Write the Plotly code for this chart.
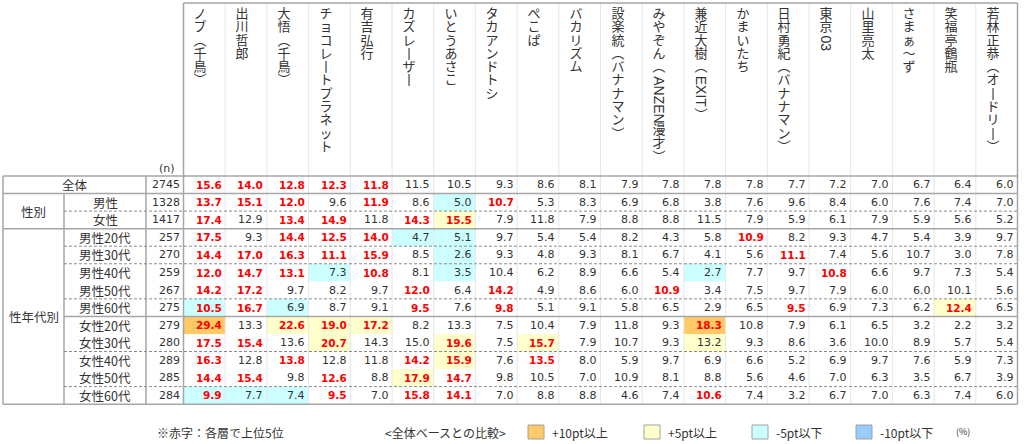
"""Table of favourite comedians by gender / age group, drawn with plotly shapes and text."""
import plotly.graph_objects as go

# Column headers (comedians)
names = ['ノブ（千鳥）', '出川哲郎', '大悟（千鳥）', 'チョコレートプラネット', '有吉弘行',
         'カズレーザー', 'いとうあさこ', 'タカアンドトシ', 'ぺこぱ', 'バカリズム',
         '設楽統（バナナマン）', 'みやぞん（ANZEN漫才）', '兼近大樹（EXIT）', 'かまいたち',
         '日村勇紀（バナナマン）', '東京03', '山里亮太', 'さまぁ～ず', '笑福亭鶴瓶',
         '若林正恭（オードリー）']

# Row labels and base sizes
row_labels = ['全体', '男性', '女性', '男性20代', '男性30代', '男性40代', '男性50代', '男性60代',
              '女性20代', '女性30代', '女性40代', '女性50代', '女性60代']
n_values = [2745, 1328, 1417, 257, 270, 259, 267, 275, 279, 280, 289, 285, 284]

# Values (%) per row
total = [15.6, 14.0, 12.8, 12.3, 11.8, 11.5, 10.5, 9.3, 8.6, 8.1,
         7.9, 7.8, 7.8, 7.8, 7.7, 7.2, 7.0, 6.7, 6.4, 6.0]
male = [13.7, 15.1, 12.0, 9.6, 11.9, 8.6, 5.0, 10.7, 5.3, 8.3,
        6.9, 6.8, 3.8, 7.6, 9.6, 8.4, 6.0, 7.6, 7.4, 7.0]
female = [17.4, 12.9, 13.4, 14.9, 11.8, 14.3, 15.5, 7.9, 11.8, 7.9,
          8.8, 8.8, 11.5, 7.9, 5.9, 6.1, 7.9, 5.9, 5.6, 5.2]
male_20s = [17.5, 9.3, 14.4, 12.5, 14.0, 4.7, 5.1, 9.7, 5.4, 5.4,
            8.2, 4.3, 5.8, 10.9, 8.2, 9.3, 4.7, 5.4, 3.9, 9.7]
male_30s = [14.4, 17.0, 16.3, 11.1, 15.9, 8.5, 2.6, 9.3, 4.8, 9.3,
            8.1, 6.7, 4.1, 5.6, 11.1, 7.4, 5.6, 10.7, 3.0, 7.8]
male_40s = [12.0, 14.7, 13.1, 7.3, 10.8, 8.1, 3.5, 10.4, 6.2, 8.9,
            6.6, 5.4, 2.7, 7.7, 9.7, 10.8, 6.6, 9.7, 7.3, 5.4]
male_50s = [14.2, 17.2, 9.7, 8.2, 9.7, 12.0, 6.4, 14.2, 4.9, 8.6,
            6.0, 10.9, 3.4, 7.5, 9.7, 7.9, 6.0, 6.0, 10.1, 5.6]
male_60s = [10.5, 16.7, 6.9, 8.7, 9.1, 9.5, 7.6, 9.8, 5.1, 9.1,
            5.8, 6.5, 2.9, 6.5, 9.5, 6.9, 7.3, 6.2, 12.4, 6.5]
female_20s = [29.4, 13.3, 22.6, 19.0, 17.2, 8.2, 13.3, 7.5, 10.4, 7.9,
              11.8, 9.3, 18.3, 10.8, 7.9, 6.1, 6.5, 3.2, 2.2, 3.2]
female_30s = [17.5, 15.4, 13.6, 20.7, 14.3, 15.0, 19.6, 7.5, 15.7, 7.9,
              10.7, 9.3, 13.2, 9.3, 8.6, 3.6, 10.0, 8.9, 5.7, 5.4]
female_40s = [16.3, 12.8, 13.8, 12.8, 11.8, 14.2, 15.9, 7.6, 13.5, 8.0,
              5.9, 9.7, 6.9, 6.6, 5.2, 6.9, 9.7, 7.6, 5.9, 7.3]
female_50s = [14.4, 15.4, 9.8, 12.6, 8.8, 17.9, 14.7, 9.8, 10.5, 7.0,
              10.9, 8.1, 8.8, 5.6, 4.6, 7.0, 6.3, 3.5, 6.7, 3.9]
female_60s = [9.9, 7.7, 7.4, 9.5, 7.0, 15.8, 14.1, 7.0, 8.8, 8.8,
              4.6, 7.4, 10.6, 7.4, 3.2, 6.7, 7.0, 6.3, 7.4, 6.0]

rows = [total, male, female, male_20s, male_30s, male_40s, male_50s, male_60s,
        female_20s, female_30s, female_40s, female_50s, female_60s]

# Line under each row: 'full' solid, 'sub' solid from the sub-label column, 'dash', or None
separators = ['full', 'dash', 'full', 'dash', 'dash', None, 'dash', 'sub',
              None, 'dash', None, 'dash', 'full']

# Legend entries
legend_labels = ['+10pt以上', '+5pt以上', '-5pt以下', '-10pt以下']
legend_colors = ['#FFC966', '#FFFFCC', '#CCFFFF', '#99CCFF']

# Geometry (pixels; axes are set up so data units equal pixels)
X_LEFT = 3
X_SUB = 64
X_N = 146
X_DATA = 183.5
COL_W = 41.7
X_RIGHT = X_DATA + COL_W * len(names)
Y_HEAD = 3
Y_TABLE = 176
ROW_H = 17.55
Y_BOTTOM = Y_TABLE + ROW_H * len(rows)
PITCH = 13.3

JP_FONT = 'Noto Sans CJK JP'
NUM_FONT = 'DejaVu Sans'
TEXT = '#333333'
GRID = '#a6a6a6'
LIGHT = '#e6e6e6'

# Vertical writing forms
VERTICAL = {'（': '︵', '）': '︶', 'ー': '丨'}


def cell_color(diff: float):
    """Return the background colour for a difference from the total row."""
    diff = round(diff, 1)
    if diff >= 10:
        return legend_colors[0]
    elif diff >= 5:
        return legend_colors[1]
    elif diff <= -10:
        return legend_colors[3]
    elif diff <= -5:
        return legend_colors[2]
    return None


def latin_width(run: str) -> float:
    """Rough pixel width of a latin run at 14px."""
    w = 0
    for c in run:
        if c.isdigit():
            w += 7.8
        elif c == 'I':
            w += 4.0
        else:
            w += 9.5
    return w


fig = go.Figure()
shapes = []
annotations = []

# Cell highlighting
for i, row in enumerate(rows):
    if i == 0:
        continue
    for j, v in enumerate(row):
        color = cell_color(v - total[j])
        if color:
            x0 = X_DATA + j * COL_W
            y0 = Y_TABLE + i * ROW_H
            shapes.append(dict(type='rect', x0=x0, x1=x0 + COL_W, y0=y0, y1=y0 + ROW_H,
                               fillcolor=color, line_width=0, layer='below'))

# Light column separators
for j in range(1, len(names)):
    x = X_DATA + j * COL_W
    shapes.append(dict(type='line', x0=x, x1=x, y0=Y_HEAD, y1=Y_BOTTOM,
                       line=dict(color=LIGHT, width=1)))

# Outer frame and main vertical lines
shapes.append(dict(type='line', x0=X_DATA, x1=X_RIGHT, y0=Y_HEAD, y1=Y_HEAD,
                   line=dict(color=GRID, width=1.5)))
for x, y0 in [(X_DATA, Y_HEAD), (X_RIGHT, Y_HEAD), (X_LEFT, Y_TABLE), (X_N, Y_TABLE),
              (X_SUB, Y_TABLE + ROW_H)]:
    shapes.append(dict(type='line', x0=x, x1=x, y0=y0, y1=Y_BOTTOM,
                       line=dict(color=GRID, width=1.5)))
shapes.append(dict(type='line', x0=X_LEFT, x1=X_RIGHT, y0=Y_TABLE, y1=Y_TABLE,
                   line=dict(color=GRID, width=1.5)))

# Row separators
for i, sep in enumerate(separators):
    y = Y_TABLE + (i + 1) * ROW_H
    if sep == 'full':
        shapes.append(dict(type='line', x0=X_LEFT, x1=X_RIGHT, y0=y, y1=y,
                           line=dict(color=GRID, width=1.5)))
    elif sep == 'sub':
        shapes.append(dict(type='line', x0=X_SUB, x1=X_RIGHT, y0=y, y1=y,
                           line=dict(color=GRID, width=1.5)))
    elif sep == 'dash':
        shapes.append(dict(type='line', x0=X_SUB, x1=X_RIGHT, y0=y, y1=y,
                           line=dict(color='#8c8c8c', width=1, dash='3px,2px')))

# Values: top 5 of each row in bold red
for i, row in enumerate(rows):
    cut = sorted(row, reverse=True)[4]
    yc = Y_TABLE + (i + 0.5) * ROW_H
    for j, v in enumerate(row):
        top = v >= cut
        annotations.append(dict(
            x=X_DATA + (j + 1) * COL_W - 1.5, y=yc, text=f'{v:.1f}', showarrow=False,
            xanchor='right', yanchor='middle',
            font=dict(family=NUM_FONT, size=10.5 if top else 11,
                      color='#ff0000' if top else TEXT,
                      weight='bold' if top else 'normal')))
    # n column
    annotations.append(dict(x=X_DATA - 1.5, y=yc, text=str(n_values[i]), showarrow=False,
                            xanchor='right', yanchor='middle',
                            font=dict(family=NUM_FONT, size=11, color=TEXT)))
    # row labels
    label_x = (X_LEFT + X_N) / 2 if i == 0 else (X_SUB + X_N) / 2
    annotations.append(dict(x=label_x, y=yc, text=row_labels[i], showarrow=False,
                            font=dict(family=JP_FONT, size=12.5, color=TEXT)))

# Group labels
annotations.append(dict(x=(X_LEFT + X_SUB) / 2, y=Y_TABLE + 2 * ROW_H, text='性別',
                        showarrow=False, font=dict(family=JP_FONT, size=12.5, color=TEXT)))
annotations.append(dict(x=(X_LEFT + X_SUB) / 2, y=Y_TABLE + 8 * ROW_H, text='性年代別',
                        showarrow=False, font=dict(family=JP_FONT, size=12.5, color=TEXT)))
annotations.append(dict(x=X_DATA - 17, y=Y_TABLE - 8, text='(n)', showarrow=False,
                        font=dict(family=NUM_FONT, size=11, color=TEXT)))

# Vertical column headers: one glyph per line, latin runs turned sideways
char_x, char_y, char_t = [], [], []
for j, name in enumerate(names):
    x = round(X_DATA + j * COL_W + 17)
    y = 8
    k = 0
    while k < len(name):
        c = name[k]
        if c.isascii() and c.isalnum():
            run = c
            while k + 1 < len(name) and name[k + 1].isascii() and name[k + 1].isalnum():
                k += 1
                run += name[k]
            w = latin_width(run)
            annotations.append(dict(x=x, y=y + w / 2 + 1, text=run, textangle=90,
                                    showarrow=False,
                                    font=dict(family='Liberation Sans', size=14, color=TEXT)))
            y += w + 2
        else:
            char_x.append(x)
            char_y.append(y + PITCH / 2)
            char_t.append(VERTICAL.get(c, c))
            y += PITCH
        k += 1

fig.add_trace(go.Scatter(x=char_x, y=char_y, text=char_t, mode='text',
                         textposition='middle center', hoverinfo='skip',
                         textfont=dict(family=JP_FONT, size=13, color=TEXT)))

# Legend
Y_LEG = 432
annotations.append(dict(x=220, y=Y_LEG, text='※赤字：各層で上位5位', showarrow=False,
                        font=dict(family=JP_FONT, size=12, color=TEXT)))
annotations.append(dict(x=383, y=Y_LEG, text='<全体ベースとの比較>', showarrow=False,
                        xanchor='left', font=dict(family=JP_FONT, size=12, color=TEXT)))
box_x = [528, 644, 752, 856]
for bx, label, color in zip(box_x, legend_labels, legend_colors):
    shapes.append(dict(type='rect', x0=bx, x1=bx + 16, y0=Y_LEG - 7, y1=Y_LEG + 7,
                       fillcolor=color, line=dict(color='#a0a0a0', width=1)))
    annotations.append(dict(x=bx + 22, y=Y_LEG, text=label, showarrow=False, xanchor='left',
                            font=dict(family=JP_FONT, size=12, color=TEXT)))
annotations.append(dict(x=954, y=Y_LEG - 1, text='(%)', showarrow=False, xanchor='left',
                        font=dict(family=JP_FONT, size=9, color=TEXT)))

fig.update_layout(
    width=1024, height=444,
    margin=dict(l=0, r=0, t=0, b=0),
    paper_bgcolor='white', plot_bgcolor='white',
    showlegend=False,
    xaxis=dict(range=[0, 1024], visible=False, fixedrange=True),
    yaxis=dict(range=[444, 0], visible=False, fixedrange=True),
    shapes=shapes,
    annotations=annotations
)

# The page body has a default margin; drop it so the figure fills the window exactly
fig.write_html('out.html', config={'displayModeBar': False},
               post_script="document.body.style.margin='0';"
                           "document.body.style.overflow='hidden';")
